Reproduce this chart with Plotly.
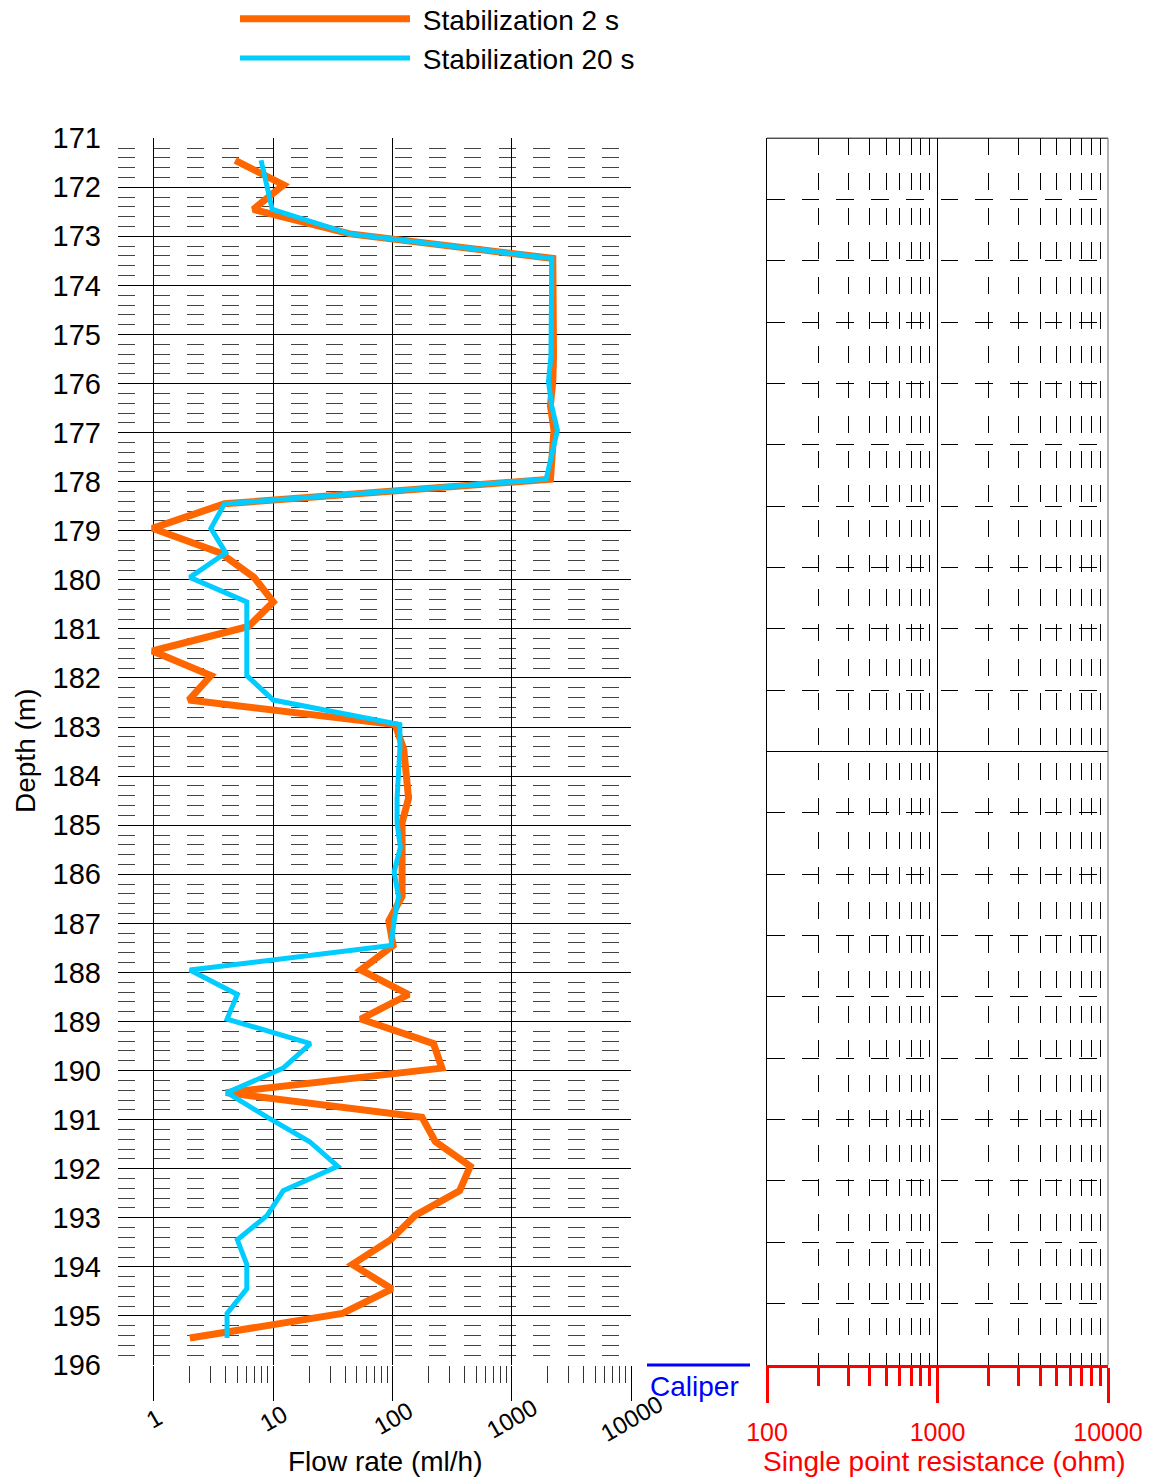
import math
import plotly.graph_objects as go

# depth of each measurement (m)
depth = [171.45, 171.95, 172.45, 172.95, 173.45, 173.95, 174.45, 174.95, 175.45, 175.95,
         176.45, 176.95, 177.45, 177.95, 178.45, 178.95, 179.45, 179.95, 180.45, 180.95,
         181.45, 181.95, 182.45, 182.95, 183.45, 183.95, 184.45, 184.95, 185.45, 185.95,
         186.45, 186.95, 187.45, 187.95, 188.45, 188.95, 189.45, 189.95, 190.45, 190.95,
         191.45, 191.95, 192.45, 192.95, 193.45, 193.95, 194.45, 194.95, 195.45]

# flow rate (ml/h), stabilization 2 s
flow_2s = [4.8, 12.2, 6.8, 44, 2200, 2220, 2250, 2230, 2230, 2200,
           2100, 2250, 2200, 2100, 3.9, 0.97, 3.6, 6.9, 10, 6.2,
           0.97, 3.0, 1.96, 105, 124, 132, 136, 120, 121, 122,
           120, 93, 101, 54, 136, 54, 220, 259, 4.0, 176,
           228, 447, 364, 155, 96, 46, 99, 38, 2.0]

# flow rate (ml/h), stabilization 20 s
flow_20s = [7.9, 8.8, 9.8, 44, 2157, 2150, 2150, 2140, 2120, 2023,
            2150, 2404, 2150, 1933, 3.9, 3.0, 4.0, 2.0, 6.0, 6.0,
            6.0, 6.0, 10, 115, 115, 112, 109, 109, 116, 103,
            112, 103, 97, 2.0, 5.0, 4.1, 20.5, 12.1, 4.1, 8.9,
            20.2, 34.7, 12.1, 8.9, 5.0, 6.0, 6.0, 4.1, 4.1]

flow_ticks = [1, 10, 100, 1000, 10000]
flow_minor = [2, 3, 4, 5, 6, 7, 8, 9, 20, 30, 40, 50, 60, 70, 80, 90,
              200, 300, 400, 500, 600, 700, 800, 900,
              2000, 3000, 4000, 5000, 6000, 7000, 8000, 9000]
resist_ticks = [100, 1000, 10000]
resist_minor = [200, 300, 400, 500, 600, 700, 800, 900,
                2000, 3000, 4000, 5000, 6000, 7000, 8000, 9000]

W, H = 1149, 1479
FONT = "Liberation Sans, Arial, sans-serif"
NBSP = '\u00a0'  # small gap between legend line and its label


def px(x):
    return x / W


def py(y):
    return 1 - y / H


traces = [
    go.Scatter(x=flow_2s, y=depth, mode='lines', name=NBSP + 'Stabilization 2 s',
               line=dict(color='#FF6600', width=7), xaxis='x', yaxis='y'),
    go.Scatter(x=flow_20s, y=depth, mode='lines', name=NBSP + 'Stabilization 20 s',
               line=dict(color='#00CCFF', width=5), xaxis='x', yaxis='y'),
    # resistance track: no data in this run, keeps the second panel drawn
    go.Scatter(x=[], y=[], mode='lines', showlegend=False, hoverinfo='skip',
               xaxis='x2', yaxis='y2'),
]

layout = go.Layout(
    width=W, height=H,
    margin=dict(l=0, r=0, t=0, b=0, autoexpand=False),
    paper_bgcolor='white', plot_bgcolor='white',
    font=dict(family=FONT, color='black'),
    showlegend=True,
    legend=dict(x=px(235), y=py(-6), xanchor='left', yanchor='top',
                font=dict(size=28), itemwidth=170, bgcolor='rgba(0,0,0,0)'),
    xaxis=dict(domain=[px(118), px(631.3)], type='log', range=[math.log10(0.5), 4],
               anchor='y', tickvals=flow_ticks, showgrid=True, gridcolor='black',
               gridwidth=1, zeroline=False, showline=False, ticks='outside',
               ticklen=35, tickcolor='black', showticklabels=False,
               minor=dict(tickvals=flow_minor, ticks='outside', ticklen=17,
                          tickcolor='#333', showgrid=False)),
    yaxis=dict(domain=[py(1365), py(138.2)], range=[196, 171], anchor='x',
               tick0=171, dtick=1, showgrid=True, gridcolor='black', gridwidth=1,
               zeroline=False, ticks='', ticklabelstandoff=16,
               tickfont=dict(size=29),
               minor=dict(tick0=171, dtick=0.2, showgrid=True, gridcolor='#444',
                          gridwidth=1, griddash='17px,17.6px')),
    xaxis2=dict(domain=[px(767), px(1108)], type='log', range=[2, 4], anchor='y2',
                tickvals=resist_ticks, ticktext=[str(v) for v in resist_ticks],
                showgrid=True, gridcolor='black', gridwidth=1,
                zeroline=False, showline=True, linecolor='red', linewidth=3,
                ticks='outside', ticklen=35, tickwidth=3, tickcolor='red',
                tickfont=dict(size=25, color='red'), ticklabelstandoff=8,
                minor=dict(tickvals=resist_minor, ticks='outside', ticklen=18,
                           tickwidth=3, tickcolor='red', showgrid=True,
                           gridcolor='black', gridwidth=1, griddash='17px,17.7px')),
    yaxis2=dict(domain=[py(1365), py(138.2)], range=[196, 171], anchor='x2',
                tick0=171, dtick=12.5, showgrid=True, gridcolor='black', gridwidth=1,
                zeroline=False, showticklabels=False, ticks='',
                showline=True, linecolor='black', linewidth=1,
                minor=dict(tick0=171, dtick=1.25, showgrid=True, gridcolor='black',
                           gridwidth=1, griddash='17.7px,17px')),
)

annotations = []
for v in flow_ticks:
    annotations.append(dict(x=math.log10(v), xref='x', y=py(1418), yref='paper',
                            text=str(v), textangle=-30, showarrow=False,
                            xanchor='center', yanchor='middle',
                            font=dict(size=24, color='black')))
annotations.append(dict(x=px(385), y=py(1461), xref='paper', yref='paper',
                        text='Flow rate (ml/h)', showarrow=False,
                        xanchor='center', yanchor='middle', font=dict(size=28)))
annotations.append(dict(x=px(25), y=py(751), xref='paper', yref='paper',
                        text='Depth (m)', textangle=-90, showarrow=False,
                        xanchor='center', yanchor='middle', font=dict(size=28)))
annotations.append(dict(x=px(944), y=py(1461), xref='paper', yref='paper',
                        text='Single point resistance (ohm)', showarrow=False,
                        xanchor='center', yanchor='middle',
                        font=dict(size=28, color='red')))
annotations.append(dict(x=px(695), y=py(1386), xref='paper', yref='paper',
                        text='Caliper', showarrow=False,
                        xanchor='center', yanchor='middle',
                        font=dict(size=28, color='#0000FF')))
layout.annotations = annotations

layout.shapes = [
    # caliper scale bar (track has no caliper data)
    dict(type='line', xref='paper', yref='paper',
         x0=px(647), x1=px(750), y0=py(1365), y1=py(1365),
         line=dict(color='#0000FF', width=3)),
    # top and right frame of the resistance track
    dict(type='line', xref='x2 domain', yref='y2 domain', x0=0, x1=1, y0=1, y1=1,
         line=dict(color='black', width=1)),
    dict(type='line', xref='x2 domain', yref='y2 domain', x0=1, x1=1, y0=0, y1=1,
         line=dict(color='#666', width=1)),
]

fig = go.Figure(data=traces, layout=layout)
# page body has an 8px default margin; drop it so the figure sits at 0,0
fig.write_html("out.html", config=dict(displayModeBar=False),
               post_script="document.body.style.margin='0';"
                           "document.body.style.overflow='hidden';")
